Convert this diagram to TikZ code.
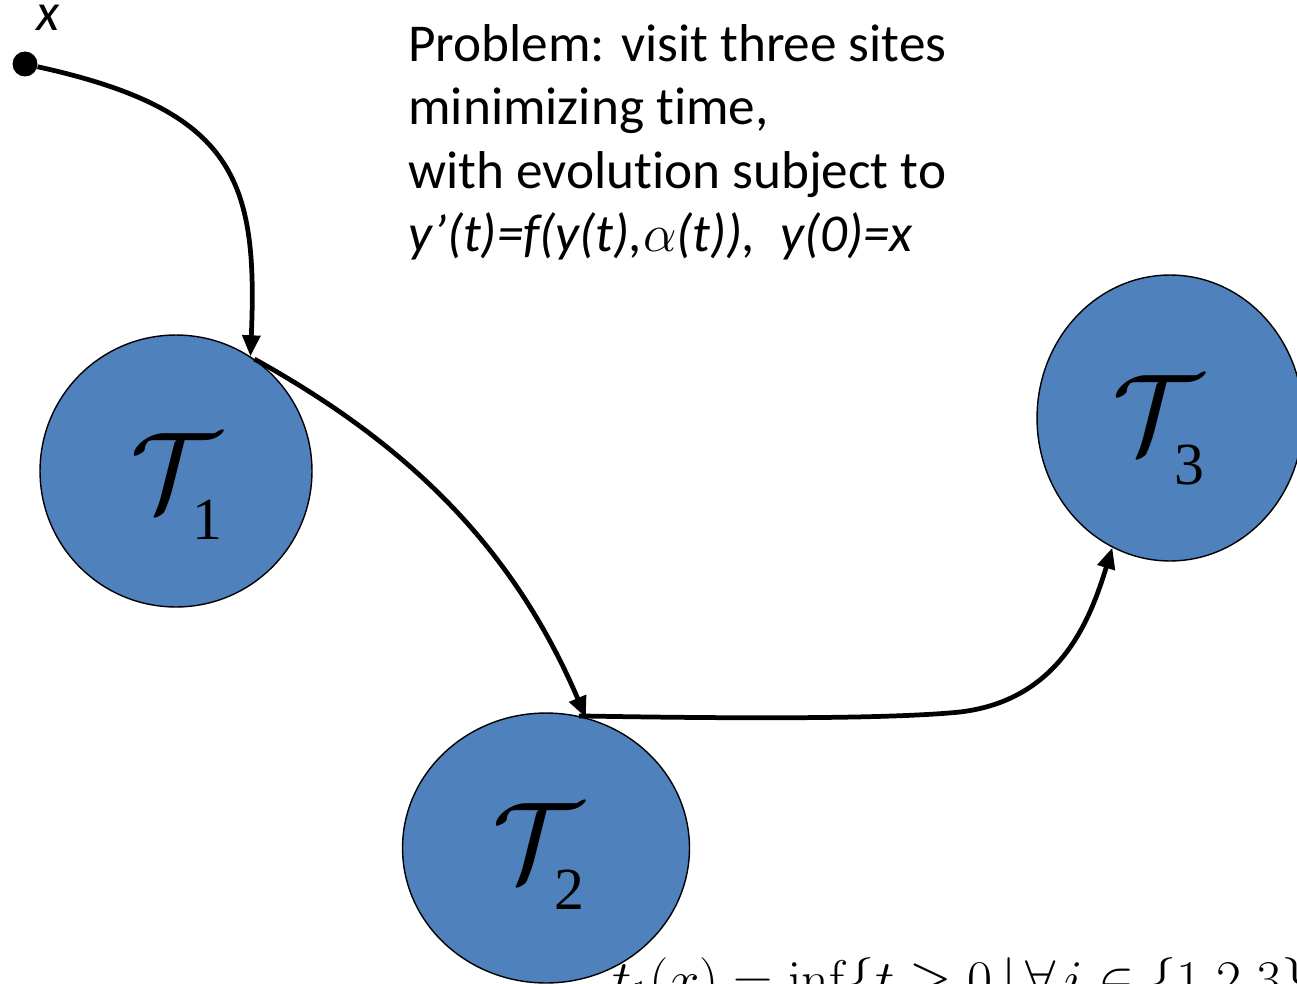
\RequirePackage{fix-cm}
\documentclass[tikz,border=0pt]{standalone}
\usepackage[no-math]{fontspec}
\setmainfont[Ligatures={NoCommon}]{Carlito}
\newfontfamily\serifdigits{Liberation Serif}
\usetikzlibrary{shapes.geometric,arrows.meta}
\definecolor{siteblue}{HTML}{4F81BD}
\tikzset{
  site/.style={ellipse, draw=black, line width=0.8pt, fill=siteblue, inner sep=0pt},
  route/.style={line width=2.7pt, -{Triangle[length=12pt,width=10pt]}},
  sitelabel/.style={anchor=base west, inner sep=0pt},
  bigtext/.style={font=\fontsize{30.3}{36.1}\selectfont},
}
\newcommand{\sitelab}[2]{{\fontsize{64}{64}\selectfont$\mathcal{T}$}\kern-16pt\raisebox{#2}{\serifdigits\fontsize{34}{34}\selectfont #1}}
\begin{document}
\begin{tikzpicture}[x=0.02cm,y=-0.02cm]
\useasboundingbox (0,0) rectangle (1297,983);
\clip (0,0) rectangle (1297,983);
% sites
\node[site, minimum width=5.44cm, minimum height=5.44cm] (t1) at (176,471) {};
\node[site, minimum width=5.74cm, minimum height=5.40cm] (t2) at (546,848) {};
\node[site, minimum width=5.32cm, minimum height=5.72cm] (t3) at (1170,418) {};
% site labels
\node[sitelabel] (t1l) at (130,510) {\sitelab{1}{-17pt}};
\node[sitelabel] (t2l) at (492,880) {\sitelab{2}{-17pt}};
\node[sitelabel] (t3l) at (1112,452) {\sitelab{3}{-18.5pt}};
% start point
\node[circle, fill=black, inner sep=0pt, minimum size=0.5cm] (x0) at (25,64) {};
\node[font=\fontsize{30.3}{36.1}\selectfont\itshape, inner sep=0pt] (xlab) at (48,18) {x};
% problem text
\node[bigtext, anchor=north west, inner sep=0pt, align=left] (prob) at (408,24)
  {Problem: visit three sites\\minimizing time,\\with evolution subject to\\{\itshape y’(t)=f(y(t),$\alpha$(t)),\ \ y(0)=x}};
% definition (cut by the frame)
\node[anchor=base west, inner sep=0pt, font=\fontsize{31}{31}\selectfont] (tdef) at (612,998)
  {$t_1(x)=\inf\{t\geq 0\,|\,\forall\, i\in\{1{,}2{,}3\}$};
% routes
\draw[route] (x0) .. controls (235,110) and (258,180) .. (t1.57);
\draw[route] (t1.55) .. controls (400,440) and (510,540) .. (t2.73);
\draw[route] (t2.76) .. controls (700,718) and (880,720) .. (960,712) .. controls (1060,700) and (1090,620) .. (t3.246);
\end{tikzpicture}
\end{document}
